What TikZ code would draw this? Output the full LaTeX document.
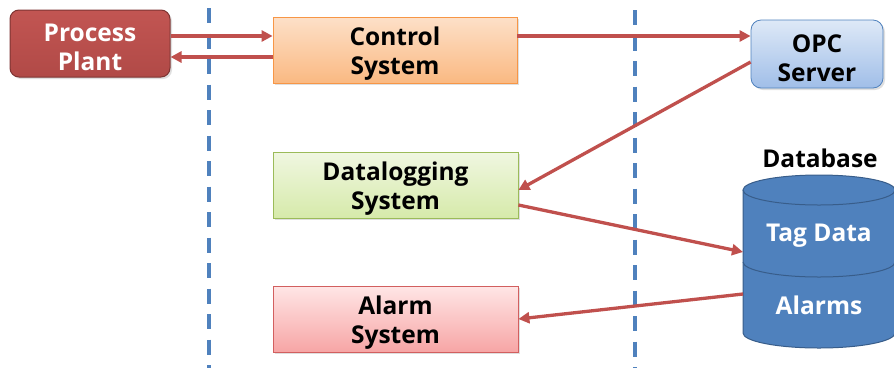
\documentclass[tikz,border=0pt]{standalone}
\usepackage{fontspec}
\setmainfont{Open Sans}[BoldFont={* Bold}]
\usetikzlibrary{arrows.meta,shadows,calc}
\definecolor{arrred}{HTML}{C0504D}
\definecolor{dashblue}{HTML}{4F81BD}
\definecolor{dbfill}{HTML}{4F81BD}
\definecolor{dbline}{HTML}{385D8A}
\newcommand{\topstrut}{\rule{0pt}{26pt}}
\tikzset{
  box/.style={rectangle, minimum width=#1, minimum height=66pt, inner sep=0pt, align=center,
    font=\fontsize{24.5}{29}\selectfont\bfseries, drop shadow={opacity=0.25,shadow xshift=2pt,shadow yshift=-2pt}},
  ppbox/.style={box=160pt, minimum height=67pt, rounded corners=9pt, draw=arrred!65!black, line width=1pt,
    top color=arrred!97!white, bottom color=arrred!92!black, text=white},
  ctrlbox/.style={box=244pt, line width=0.8pt, draw={rgb,255:red,247;green,150;blue,70},
    top color={rgb,255:red,253;green,224;blue,200}, bottom color={rgb,255:red,250;green,185;blue,130}},
  opcbox/.style={box=132pt, minimum height=68pt, rounded corners=10pt, line width=0.8pt, draw=dashblue,
    top color={rgb,255:red,222;green,233;blue,247}, bottom color={rgb,255:red,160;green,190;blue,232}},
  dlbox/.style={box=245pt, line width=0.8pt, draw={rgb,255:red,155;green,187;blue,89},
    top color={rgb,255:red,240;green,247;blue,225}, bottom color={rgb,255:red,214;green,234;blue,170}},
  albox/.style={box=245pt, line width=0.8pt, draw={rgb,255:red,210;green,95;blue,95},
    top color={rgb,255:red,255;green,230;blue,230}, bottom color={rgb,255:red,247;green,165;blue,165}},
  arr/.style={draw=arrred, line width=3.3pt, -{Triangle[length=11pt,width=11pt]}},
  sep/.style={draw=dashblue, line width=4pt, dash pattern=on 15pt off 10.5pt},
  dblabel/.style={font=\fontsize{24.5}{29}\selectfont\bfseries, text=white},
}
\begin{document}
\begin{tikzpicture}[x=1pt,y=-1pt]
\useasboundingbox (0,0) rectangle (894,368);
% separators
\coordinate (s1t) at (209,8);
\coordinate (s1b) at (209,368);
\coordinate (s2t) at (635,10);
\coordinate (s2b) at (635,368);
\draw[sep] (s1t) -- (s1b);
\draw[sep] (s2t) -- (s2b);
% boxes
\node[ppbox] (pp) at (90,43.5) {\topstrut Process\\Plant};
\node[ctrlbox] (ctrl) at (395,50) {\topstrut Control\\System};
\node[opcbox] (opc) at (817,54) {\topstrut OPC\\Server};
\node[dlbox] (dl) at (395.5,185) {\topstrut Datalogging\\System};
\node[albox] (al) at (395.5,319) {\topstrut Alarm\\System};
% database cylinder
\fill[dbfill] (743,190) -- (743,333) arc[start angle=180,end angle=360,x radius=76pt,y radius=15pt]
  -- (895,190) arc[start angle=0,end angle=180,x radius=76pt,y radius=15pt] -- cycle;
\draw[dbline, line width=1pt] (743,190) -- (743,333) arc[start angle=180,end angle=360,x radius=76pt,y radius=15pt] -- (895,190);
\draw[dbline, line width=1pt] (819,190) ellipse[x radius=76pt,y radius=15pt];
\draw[dbline, line width=1pt] (743,262) arc[start angle=180,end angle=360,x radius=76pt,y radius=15pt];
\node[font=\fontsize{24.5}{29}\selectfont\bfseries] (dbt) at (820,158) {Database};
\node[dblabel] (tag) at (819,236) {Tag Data};
\node[dblabel] (alm) at (819,305) {Alarms};
\coordinate (tagL) at (743,252);
\coordinate (almL) at (743,294);
% arrows
\draw[arr] ([yshift=14pt]ctrl.west -| pp.east) -- ([yshift=14pt]ctrl.west);
\draw[arr] ([yshift=-7pt]ctrl.west) -- ([yshift=-7pt]ctrl.west -| pp.east);
\draw[arr] ([yshift=14pt]ctrl.east) -- ([yshift=14pt]ctrl.east -| opc.west);
\draw[arr] ([yshift=-8pt]opc.west) -- ([yshift=-5pt]dl.east);
\draw[arr] ([yshift=-20pt]dl.east) -- (tagL);
\draw[arr] (almL) -- (al.east);
\end{tikzpicture}
\end{document}
